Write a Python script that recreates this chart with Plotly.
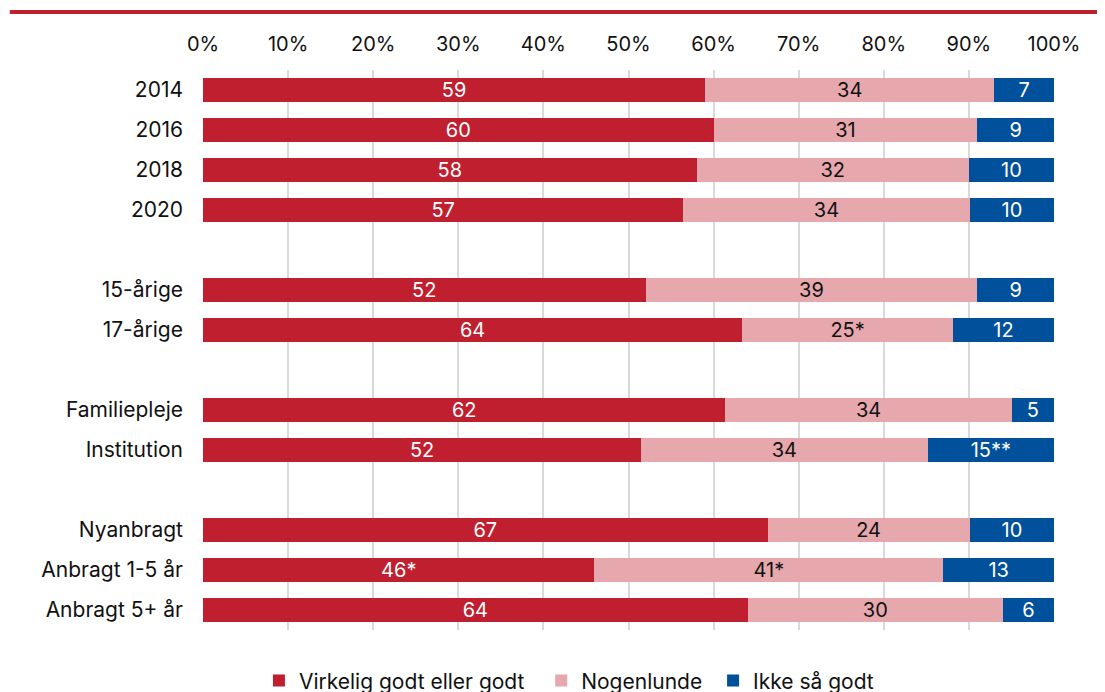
import plotly.graph_objects as go

categories = ["2014", "2016", "2018", "2020", " ",
              "15-årige", "17-årige", "  ",
              "Familiepleje", "Institution", "   ",
              "Nyanbragt", "Anbragt 1-5 år", "Anbragt 5+ år"]

godt = [59, 60, 58, 57, None, 52, 64, None, 62, 52, None, 67, 46, 64]
nogenlunde = [34, 31, 32, 34, None, 39, 25, None, 34, 34, None, 24, 41, 30]
ikke_godt = [7, 9, 10, 10, None, 9, 12, None, 5, 15, None, 10, 13, 6]

godt_txt = ["59", "60", "58", "57", "", "52", "64", "", "62", "52", "", "67", "46*", "64"]
nogen_txt = ["34", "31", "32", "34", "", "39", "25*", "", "34", "34", "", "24", "41*", "30"]
ikke_txt = ["7", "9", "10", "10", "", "9", "12", "", "5", "15**", "", "10", "13", "6"]

series = [
    ("Virkelig godt eller godt\u00a0\u00a0", godt, godt_txt, "#C01F30", "white"),
    ("Nogenlunde\u00a0", nogenlunde, nogen_txt, "#E6A7AD", "#111111"),
    ("Ikke så godt", ikke_godt, ikke_txt, "#00509B", "white"),
]

fig = go.Figure()
for name, vals, txt, col, tcol in series:
    fig.add_trace(go.Bar(
        y=categories, x=vals, name=name, orientation="h",
        text=txt, textposition="inside", insidetextanchor="middle", textangle=0,
        textfont=dict(size=20, color=tcol, family="Inter"),
        marker=dict(color=col, line=dict(width=0)),
        width=0.6,
    ))

# page body has an 8px margin, so offsets are shifted to compensate
fig.update_layout(
    barmode="stack", barnorm="percent",
    width=1105, height=692,
    margin=dict(l=195, r=59, t=62, b=70, autoexpand=False),
    paper_bgcolor="white", plot_bgcolor="white",
    font=dict(family="Inter", size=20, color="#111111"),
    uniformtext=dict(minsize=20, mode="show"),
    legend=dict(orientation="h", x=0.43, xanchor="center", y=-0.054, yanchor="top",
                font=dict(size=21), itemwidth=30, traceorder="normal"),
    showlegend=True,
)
fig.update_xaxes(
    side="top", range=[0, 100], dtick=10, ticksuffix="%",
    showgrid=True, gridcolor="#D9D9D9", gridwidth=1.5,
    zeroline=False, showline=False, ticks="", ticklabelstandoff=14,
)
fig.update_yaxes(
    categoryorder="array", categoryarray=categories, autorange="reversed",
    showgrid=False, ticks="", ticklabelstandoff=19, tickfont=dict(size=21),
)
fig.add_shape(type="line", xref="paper", yref="paper",
              x0=-0.227, x1=1.06, y0=1.1036, y1=1.1036,
              line=dict(color="#C01F30", width=4))

fig.write_html("out.html")
